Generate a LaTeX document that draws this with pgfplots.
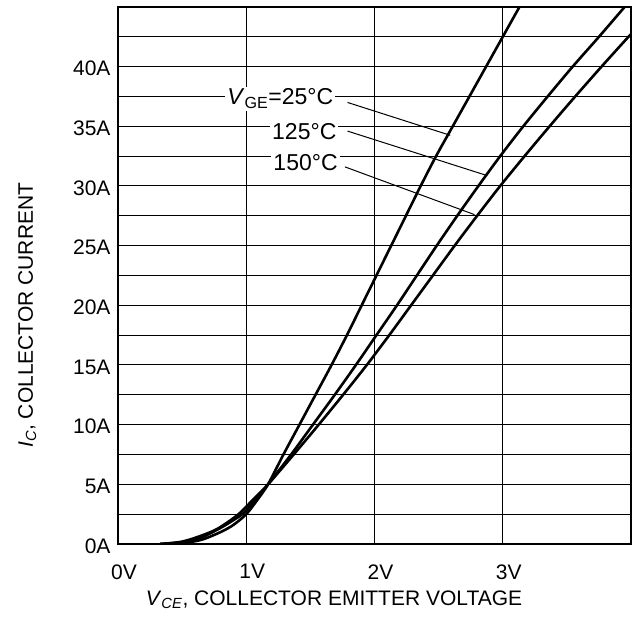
\documentclass[border=0pt]{standalone}
\usepackage{fontspec}
\setmainfont{Liberation Sans}
\usepackage{pgfplots}
\pgfplotsset{compat=1.18}
\begin{document}
\begin{tikzpicture}
\begin{axis}[
  at={(0,0)}, anchor=south west,
  scale only axis, width=513pt, height=537pt,
  xmin=0, xmax=4, ymin=0, ymax=45,
  xtick={0,1,2,3}, xticklabels={0V,1V,2V,3V},
  ytick={0,5,...,40}, yticklabels={0A,5A,10A,15A,20A,25A,30A,35A,40A},
  minor ytick={2.5,7.5,...,42.5},
  grid=both,
  major grid style={black, line width=1pt},
  minor grid style={black, line width=1pt},
  major tick length=0pt, minor tick length=0pt,
  axis line style={black, line width=1.3pt},
  font=\fontsize{21}{25}\selectfont,
  xticklabel style={yshift=-17pt, xshift=6pt},
  yticklabel style={xshift=-4pt, yshift=-2pt},
  xlabel={\textit{V}\textsubscript{\textit{CE}}, COLLECTOR EMITTER VOLTAGE},
  ylabel={\textit{I}\textsubscript{\textit{C}}, COLLECTOR CURRENT},
  xlabel style={at={(axis description cs:0.421,-0.104)}, anchor=center},
  ylabel style={at={(axis description cs:-0.177,0.426)}, anchor=center},
]
\addplot[black, line width=2.6pt, smooth, tension=0.5] coordinates {
(0.33,0) (0.5,0.08) (0.65,0.35) (0.8,1.0) (0.9,1.6) (1.0,2.5) (1.08,3.6) (1.17,5)
(1.29,7.5) (1.415,10) (1.54,12.5) (1.665,15) (1.785,17.5) (1.90,20) (2.015,22.5)
(2.13,25) (2.245,27.5) (2.36,30) (2.48,32.5) (2.61,35) (2.74,37.5) (2.87,40)
(3.0,42.5) (3.13,45)
};
\addplot[black, line width=2.6pt, smooth, tension=0.5] coordinates {
(0.33,0) (0.5,0.15) (0.65,0.55) (0.8,1.35) (0.9,2.0) (0.98,2.6) (1.08,3.8) (1.17,5)
(1.35,7.5) (1.52,10) (1.69,12.5) (1.855,15) (2.015,17.5) (2.175,20) (2.33,22.5)
(2.485,25) (2.645,27.5) (2.81,30) (2.98,32.5) (3.16,35) (3.35,37.5) (3.545,40)
(3.75,42.5) (3.95,45)
};
\addplot[black, line width=2.6pt, smooth, tension=0.5] coordinates {
(0.33,0) (0.5,0.2) (0.65,0.7) (0.78,1.3) (0.94,2.5) (1.06,3.8) (1.17,5)
(1.37,7.5) (1.565,10) (1.755,12.5) (1.94,15) (2.115,17.5) (2.285,20) (2.455,22.5)
(2.625,25) (2.80,27.5) (2.98,30) (3.17,32.5) (3.365,35) (3.565,37.5) (3.77,40)
(3.98,42.5) (4.0,42.7)
};
\draw[black, line width=1pt] (axis cs:1.79,37.0) -- (axis cs:2.59,34.25);
\draw[black, line width=1pt] (axis cs:1.79,34.6) -- (axis cs:2.87,30.9);
\draw[black, line width=1pt] (axis cs:1.77,31.6) -- (axis cs:2.78,27.6);
\node[anchor=base east, fill=white, inner sep=2pt, font=\fontsize{23}{27}\selectfont] at (axis cs:1.695,36.8) {\textit{V}\textsubscript{GE}=25°C};
\node[anchor=base east, fill=white, inner sep=2pt, font=\fontsize{23}{27}\selectfont] at (axis cs:1.72,33.9) {125°C};
\node[anchor=base east, fill=white, inner sep=2pt, font=\fontsize{23}{27}\selectfont] at (axis cs:1.73,31.3) {150°C};
\end{axis}
\pgfresetboundingbox
\path[use as bounding box] (-118pt,-84pt) rectangle (514pt,544pt);
\end{tikzpicture}
\end{document}
